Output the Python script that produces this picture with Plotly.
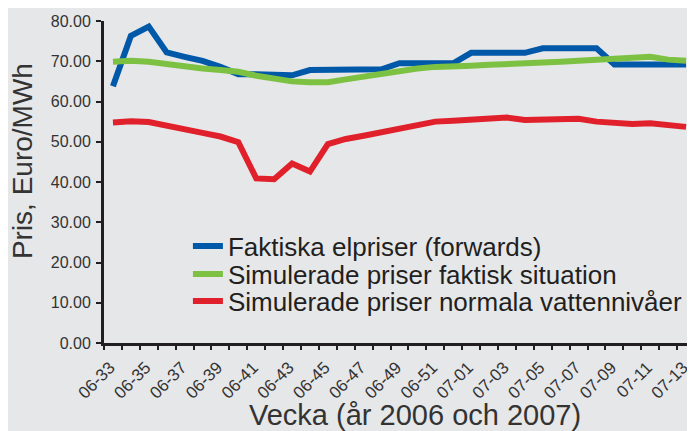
import plotly.graph_objects as go

weeks = ["06-33", "06-34", "06-35", "06-36", "06-37", "06-38", "06-39", "06-40", "06-41",
         "06-42", "06-43", "06-44", "06-45", "06-46", "06-47", "06-48", "06-49", "06-50",
         "06-51", "06-52", "07-01", "07-02", "07-03", "07-04", "07-05", "07-06", "07-07",
         "07-08", "07-09", "07-10", "07-11", "07-12", "07-13"]

faktiska = [63.8, 76.3, 78.6, 72.2, 71.1, 70.1, 68.6, 66.8, 66.8, 66.6, 66.5,
            67.8, 67.8, 67.8, 67.8, 68.0, 69.5, 69.5, 69.5, 69.5, 72.1, 72.1,
            72.1, 72.1, 73.2, 73.2, 73.2, 73.2, 69.2, 69.2, 69.2, 69.2, 69.2]

sim_faktisk = [69.9, 70.1, 69.9, 69.3, 68.6, 68.2, 67.8, 67.4, 66.4, 65.8, 65.0,
               64.8, 64.8, 65.5, 66.2, 66.8, 67.7, 68.2, 68.6, 68.6, 68.9, 69.1,
               69.2, 69.5, 69.7, 69.9, 70.1, 70.3, 70.5, 70.7, 71.1, 70.4, 70.1]

sim_normal = [54.8, 55.1, 54.9, 53.9, 52.9, 52.2, 51.3, 49.9, 40.9, 40.7, 44.6,
              42.6, 49.4, 50.7, 51.5, 52.3, 53.3, 54.2, 55.0, 55.2, 55.4, 55.5,
              56.0, 55.4, 55.4, 55.5, 55.7, 55.0, 54.7, 54.4, 54.6, 54.2, 53.7]

series_names = ["Faktiska elpriser (forwards)",
                "Simulerade priser faktisk situation",
                "Simulerade priser normala vattennivåer"]
series_colors = ["#0058a9", "#7dc142", "#e0212b"]
legend_ids = ["legend", "legend2", "legend3"]
legend_rows = [0.301, 0.214, 0.130]

x_title = "Vecka (år 2006 och 2007)"
y_title = "Pris, Euro/MWh"

tick_text = [w if i % 2 == 0 else "" for i, w in enumerate(weeks)]

fig = go.Figure()
for name, vals, col, lg in zip(series_names, [faktiska, sim_faktisk, sim_normal],
                               series_colors, legend_ids):
    fig.add_trace(go.Scatter(x=weeks, y=vals, mode="lines", name=name, legend=lg,
                             line=dict(color=col, width=6)))

axis_col = "#231f20"
text_col = "#333333"
bg = "#e6e7e9"

legend_style = dict(x=0.142, xanchor="left", yanchor="middle",
                    bgcolor="rgba(0,0,0,0)", font=dict(size=26, color="#231f20"),
                    itemwidth=30)

layout_legends = {}
for lg, yv in zip(legend_ids, legend_rows):
    layout_legends[lg] = dict(legend_style, y=yv)

# page has an 8px body margin, so the figure is 8px smaller than the window
fig.update_layout(
    width=687, height=423,
    margin=dict(l=96, r=0, t=13, b=88),
    paper_bgcolor=bg, plot_bgcolor=bg,
    font=dict(family="Liberation Sans, Arial, sans-serif", color=text_col, size=16),
    showlegend=True,
    **layout_legends,
    xaxis=dict(type="category", categoryorder="array", categoryarray=weeks,
               range=[-0.5, len(weeks) - 0.5],
               tickmode="array", tickvals=weeks, ticktext=tick_text,
               tickson="boundaries", ticks="outside", ticklen=4, tickwidth=2,
               tickcolor=axis_col, showline=True, linecolor=axis_col, linewidth=3,
               showgrid=False, zeroline=False, tickangle=-45,
               ticklabelshift=-3, ticklabelstandoff=5,
               tickfont=dict(size=17, color=text_col),
               automargin=False),
    yaxis=dict(range=[0, 80], dtick=10, tick0=0, tickformat=".2f",
               ticks="outside", ticklen=5, tickwidth=2, tickcolor=axis_col,
               showline=True, linecolor=axis_col, linewidth=3,
               showgrid=False, zeroline=False, ticklabelstandoff=2,
               tickfont=dict(size=16, color=text_col),
               automargin=False),
    annotations=[
        dict(text=y_title, xref="paper", yref="paper", x=-0.1387, y=0.565,
             xanchor="center", yanchor="middle", textangle=-90, showarrow=False,
             font=dict(size=28, color=text_col)),
        dict(text=x_title, xref="paper", yref="paper", x=0.526, y=-0.225,
             xanchor="center", yanchor="middle", showarrow=False,
             font=dict(size=29, color=text_col)),
    ],
)

fig.write_html("out.html")
